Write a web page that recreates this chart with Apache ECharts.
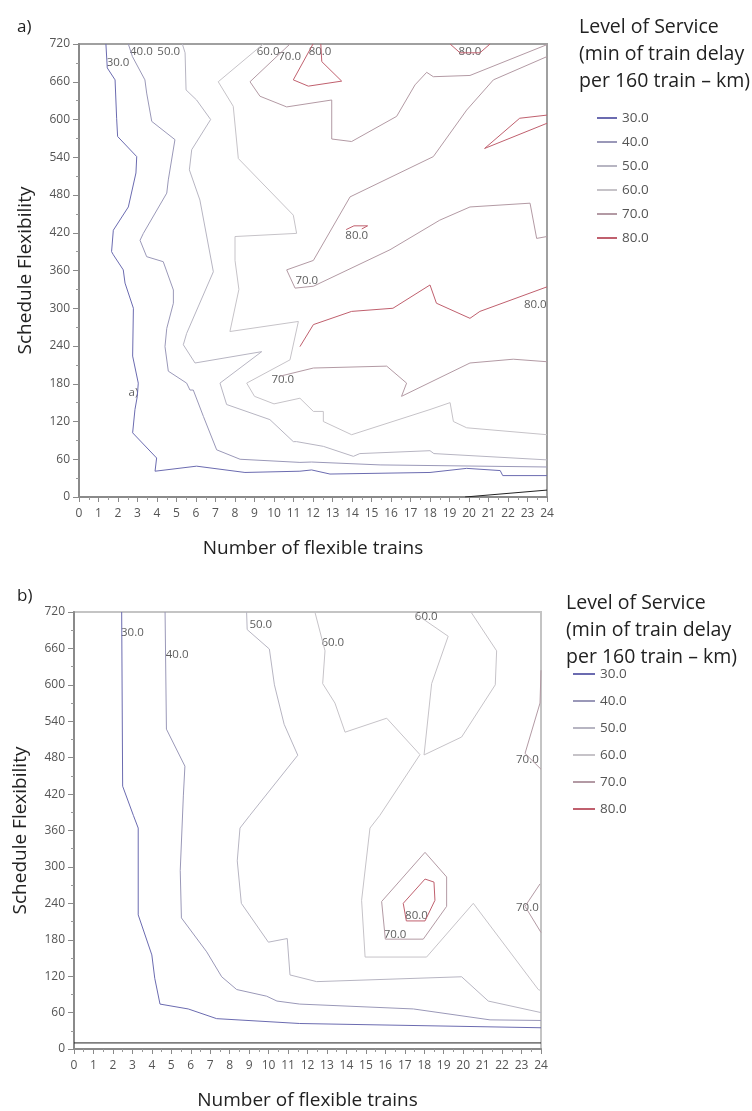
<!DOCTYPE html>
<html>
<head>
<meta charset="utf-8">
<script src="https://cdn.jsdelivr.net/npm/echarts@6/dist/echarts.min.js"></script>
<style>
html,body{margin:0;padding:0;background:#fff}
#main{width:752px;height:1111px}
</style>
</head>
<body>
<div id="main"></div>
<script>
// contour levels (legend) and the colour of each level
var levels = ['30.0', '40.0', '50.0', '60.0', '70.0', '80.0'];
var levelColors = ['#6b6bb0', '#9a98b8', '#b7b5c2', '#c6c3c8', '#b39aa4', '#c0606e'];

// ---- chart a) contour lines, [trains, flexibility] ----
var a30 = [[[1.38,720],[1.45,682],[1.85,663],[1.93,602],[1.98,573],[2.96,541],[2.92,515],[2.53,461],[1.76,424],[1.67,390],[1.76,385],[2.27,361],[2.36,340],[2.79,300],[2.75,224],[3.04,181],[2.99,160],[2.87,139],[2.75,102],[3.98,62],[3.9,41],[6.03,49],[8.51,39],[8.6,37],[11.33,41],[11.93,43],[12.87,36.5],[18,39],[19.88,45.5],[21.6,42],[21.73,34],[24,34]]];
var a40 = [[[2.53,720],[2.74,700],[3.38,663],[3.47,642],[3.73,597],[4.92,568],[4.58,504],[4.5,483],[3.3,419],[3.13,408],[3.47,382],[4.32,374],[4.84,329],[4.84,308],[4.5,268],[4.41,239],[4.58,200],[5.52,181],[5.69,170],[5.86,170],[6.38,128],[7.06,75],[8.26,60],[11.33,55],[11.93,55.6],[15.44,51],[24,47.7]]];
var a50 = [[[5.3,720],[5.44,706],[5.49,647],[6.03,631],[6.75,600],[5.78,552],[5.66,520],[6.2,472],[6.89,358],[5.52,260],[5.35,242],[5.95,213],[9.37,231],[7.23,181],[7.57,147],[9.79,123],[10.99,88],[11.16,88],[12.53,80.5],[14.07,64.6],[14.4,69],[18,73.6],[18.2,69],[24,59]]];
var a60 = [[[9.45,720],[7.14,660],[7.91,621],[8.17,538],[10.99,448],[11.16,419],[8.0,414],[8.0,376],[8.2,330],[7.74,263],[11.25,279],[10.82,218],[8.6,181],[9.0,160],[10.0,148],[11.33,157],[12.02,136],[12.53,136],[12.53,120],[13.98,99],[18,139],[19.03,150],[19.2,120],[19.88,110],[24,99]]];
var a70 = [
  [[10.82,720],[8.77,660],[9.28,637],[10.65,620],[10.73,620],[12.96,631],[12.96,569],[13.98,565],[16.29,605],[17.23,655],[17.83,675],[18.17,668],[20.05,670],[24,719]],
  [[24,700],[21.25,663],[19.88,615],[18.17,541],[13.9,477],[12.02,376],[10.65,361],[11.08,332],[12.02,335],[15.95,393],[18.5,440],[20.05,461],[23.13,467],[23.47,411],[24,414]],
  [[10.31,192],[12.02,205],[15.78,208],[16.8,181],[16.54,160],[20.05,213],[22.27,219],[24,215]]
];
var a80 = [
  [[12.0,720],[10.99,663],[11.76,653],[13.47,661],[12.45,692],[12.4,720]],
  [[19.03,720],[19.54,706],[20.56,706],[21.08,720]],
  [[13.7,425],[14.1,431],[14.8,431],[14.5,426]],
  [[24,607],[22.6,602],[20.8,554],[24,594]],
  [[11.33,239],[12.02,274],[13.98,295],[16.1,300],[18,337],[18.33,308],[20.05,284],[20.56,295],[24,334]]
];
var a20 = [[[19.8,0],[24,11]]];
var aLabels = [[2.0,690,'30.0'],[3.2,708,'40.0'],[4.6,708,'50.0'],[9.7,708,'60.0'],[10.8,699,'70.0'],[12.36,708,'80.0'],[20.05,708,'80.0'],[14.24,416,'80.0'],[11.68,343,'70.0'],[23.4,306,'80.0'],[10.45,186,'70.0'],[2.79,165,'a)']];

// ---- chart b) contour lines ----
var b30 = [[[2.45,720],[2.5,433],[3.05,385],[3.3,364],[3.3,221],[4.0,155],[4.15,116.5],[4.42,74],[5.87,66],[7.33,50],[11.6,42],[24,35]]];
var b40 = [[[4.68,720],[4.75,527],[5.7,466],[5.62,417],[5.46,294],[5.52,216],[6.82,160],[7.59,119],[8.36,98],[9.9,87],[10.43,79],[11.6,74],[17.44,66],[21.38,48],[24,47]]];
var b50 = [[[8.87,720],[8.9,691],[10.04,659],[10.3,600],[10.8,535],[11.5,484],[9.04,385],[8.53,364],[8.39,310],[8.6,240],[9.99,176],[10.96,182],[11.1,122],[12.47,111],[19.92,119],[21.29,79],[24,60]]];
var b60 = [
  [[12.38,720],[12.9,656],[12.78,602],[13.41,570],[13.93,522],[16.07,545],[17.78,485],[15.72,385],[15.21,364],[14.78,245],[14.96,151.5],[18.12,151.5],[20.52,240],[23.86,98],[24,96]],
  [[17.5,720],[17.78,712],[19.23,680],[18.38,602],[17.99,484.5],[19.92,514],[21.65,600],[21.72,656],[20.4,720]]
];
var b70 = [
  [[15.81,243],[16.0,181],[17.95,181],[19.15,235],[19.15,283.5],[18.04,324],[15.81,243]],
  [[24,624],[23.95,570],[23.18,487],[24,461]],
  [[23.95,272],[23.18,235],[24,192]]
];
var b80 = [[[16.92,240],[18.04,280],[18.5,275],[18.55,245],[18.04,211],[17.08,211],[16.92,240]]];
var b20 = [[[0,10],[24,10]]];
var bLabels = [[3.0,686,'30.0'],[5.3,650,'40.0'],[9.6,699,'50.0'],[13.3,670,'60.0'],[18.1,712,'60.0'],[23.3,477,'70.0'],[23.3,232,'70.0'],[16.5,188,'70.0'],[17.6,220,'80.0']];

var FONT = '"Open Sans", sans-serif';
var chart = echarts.init(document.getElementById('main'));
var series = [];

function addLevel(segs, level, gi) {
  var c = levels.indexOf(level) >= 0 ? levelColors[levels.indexOf(level)] : '#222';
  segs.forEach(function (s) {
    series.push({
      type: 'line', name: level, xAxisIndex: gi, yAxisIndex: gi,
      data: s, symbol: 'none', showSymbol: false, silent: true,
      lineStyle: { color: c, width: 1 }, itemStyle: { color: c }
    });
  });
}
function addLabels(list, gi) {
  series.push({
    type: 'scatter', xAxisIndex: gi, yAxisIndex: gi, symbolSize: 0, silent: true,
    data: list.map(function (l) { return { value: [l[0], l[1]], label: { formatter: l[2] } }; }),
    label: { show: true, position: 'inside', color: '#333', fontSize: 11.5, fontFamily: FONT }
  });
}

addLevel(a30, '30.0', 0); addLevel(a40, '40.0', 0); addLevel(a50, '50.0', 0);
addLevel(a60, '60.0', 0); addLevel(a70, '70.0', 0); addLevel(a80, '80.0', 0);
addLevel(a20, '20.0', 0); addLabels(aLabels, 0);
addLevel(b30, '30.0', 1); addLevel(b40, '40.0', 1); addLevel(b50, '50.0', 1);
addLevel(b60, '60.0', 1); addLevel(b70, '70.0', 1); addLevel(b80, '80.0', 1);
addLevel(b20, '20.0', 1); addLabels(bLabels, 1);

function xAx(gi) {
  return {
    type: 'value', gridIndex: gi, min: 0, max: 24, interval: 1,
    name: 'Number of flexible trains', nameLocation: 'middle', nameGap: 42,
    nameTextStyle: { fontSize: 19, color: '#222', fontFamily: FONT },
    axisLine: { lineStyle: { color: '#8a8a8a', width: 2 } },
    axisTick: { length: 5, lineStyle: { color: '#8a8a8a' } },
    minorTick: { show: true, splitNumber: 2, length: 3, lineStyle: { color: '#999' } },
    axisLabel: { fontSize: 12, color: '#555', margin: 11, fontFamily: FONT },
    splitLine: { show: false }
  };
}
function yAx(gi) {
  return {
    type: 'value', gridIndex: gi, min: 0, max: 720, interval: 60,
    name: 'Schedule Flexibility', nameLocation: 'middle', nameGap: 44,
    nameTextStyle: { fontSize: 19, color: '#222', fontFamily: FONT },
    axisLine: { lineStyle: { color: '#8a8a8a', width: 2 } },
    axisTick: { length: 6, lineStyle: { color: '#8a8a8a' } },
    minorTick: { show: true, splitNumber: 2, length: 3, lineStyle: { color: '#999' } },
    axisLabel: { fontSize: 12, color: '#555', margin: 9, fontFamily: FONT },
    splitLine: { show: false }
  };
}

function legendData() {
  return levels.map(function (l, i) { return { name: l, icon: 'rect', itemStyle: { color: levelColors[i], borderWidth: 0 } }; });
}

var legendTitle = 'Level of Service\n(min of train delay\nper 160 train \u2013 km)';
var option = {
  backgroundColor: '#fff',
  animation: false,
  title: [
    { text: 'a)', left: 12, top: 14, textStyle: { fontSize: 17, fontWeight: 'normal', color: '#222', fontFamily: FONT } },
    { text: 'b)', left: 12, top: 583, textStyle: { fontSize: 17, fontWeight: 'normal', color: '#222', fontFamily: FONT } },
    { text: legendTitle, left: 574, top: 9,
      textStyle: { fontSize: 19.5, lineHeight: 27, fontWeight: 'normal', color: '#222', fontFamily: FONT } },
    { text: legendTitle, left: 561, top: 585,
      textStyle: { fontSize: 19.5, lineHeight: 27, fontWeight: 'normal', color: '#222', fontFamily: FONT } }
  ],
  legend: [
    { data: legendData(), orient: 'vertical', left: 592, top: 105, itemWidth: 20, itemHeight: 2,
      itemGap: 8, textStyle: { fontSize: 13.5, color: '#555', lineHeight: 16, fontFamily: FONT }, selectedMode: false },
    { data: legendData(), orient: 'vertical', left: 568, top: 661, itemWidth: 22, itemHeight: 2,
      itemGap: 11, textStyle: { fontSize: 13.5, color: '#555', lineHeight: 16, fontFamily: FONT }, selectedMode: false }
  ],
  grid: [
    { left: 79, top: 44, width: 468, height: 453, show: true, borderColor: '#a0a0a0', borderWidth: 2, containLabel: false },
    { left: 74, top: 612, width: 467, height: 447, show: true, borderColor: '#c4c4c4', borderWidth: 2, containLabel: false }
  ],
  xAxis: [xAx(0), xAx(1)],
  yAxis: [yAx(0), yAx(1)],
  series: series
};
chart.setOption(option);
</script>
</body>
</html>
